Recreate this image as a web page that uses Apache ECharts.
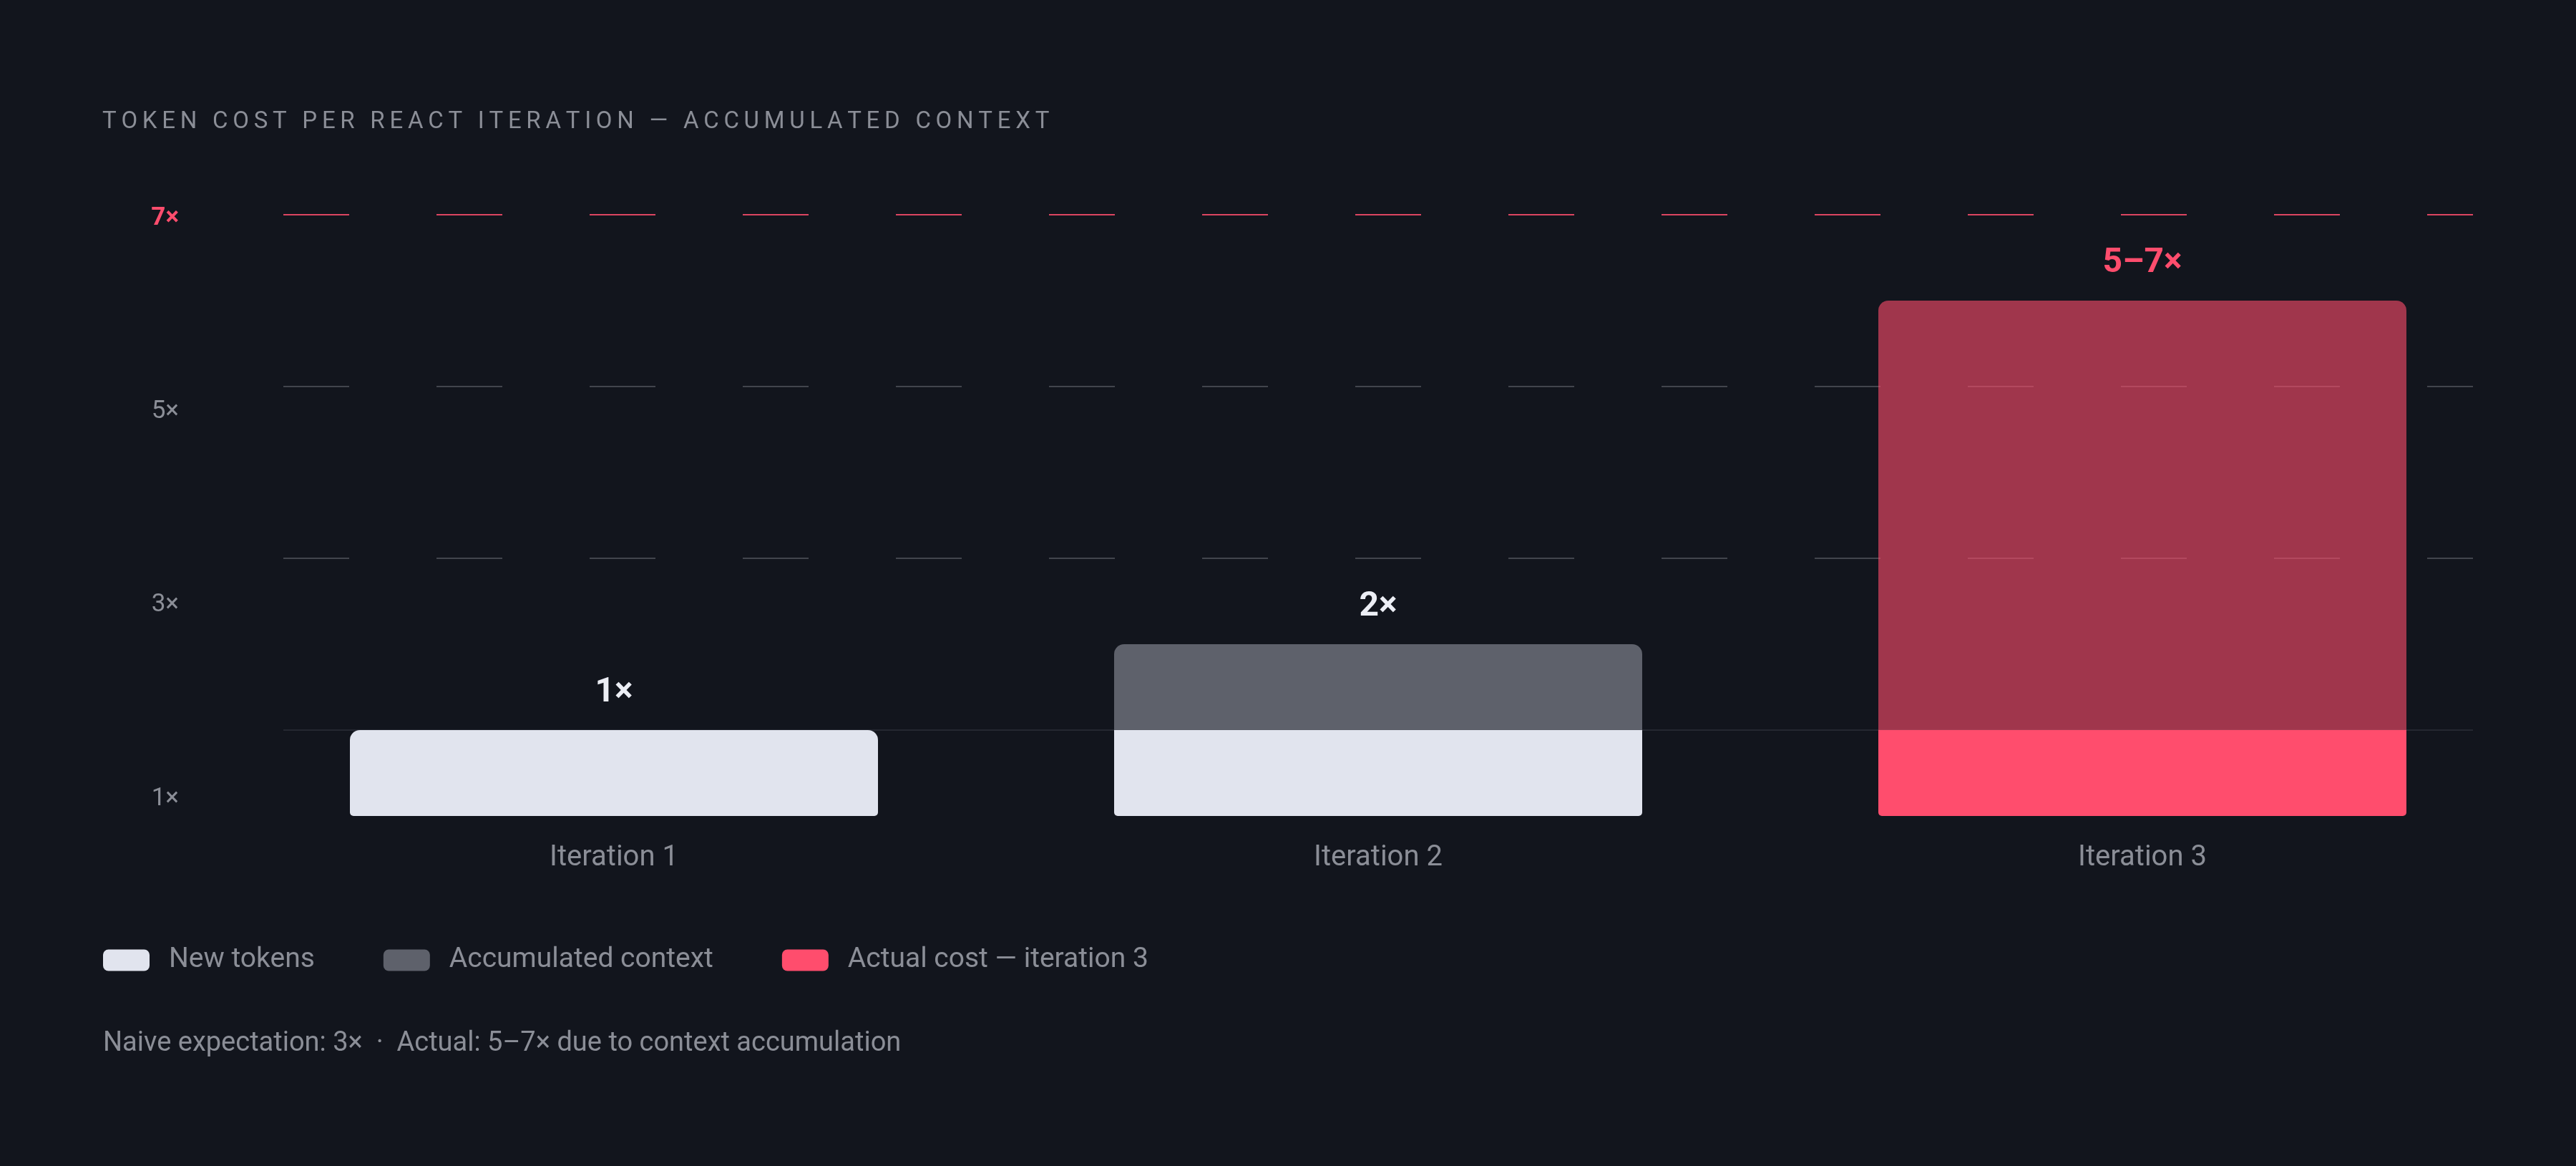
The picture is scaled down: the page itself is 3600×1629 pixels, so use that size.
<!DOCTYPE html>
<html>
<head>
<meta charset="utf-8">
<title>Token cost per ReAct iteration</title>
<script src="https://cdn.jsdelivr.net/npm/echarts@6/dist/echarts.min.js"></script>
<style>
  html, body { margin: 0; padding: 0; background: #12151d; }
  #chart { width: 3600px; height: 1629px; }
</style>
</head>
<body>
<div id="chart"></div>
<script>
// ---- data ----
var categories = ['Iteration 1', 'Iteration 2', 'Iteration 3'];
var newTokens = [1, 1, null];
var accumulatedContext = [null, 1, null];
var actualNew = [null, null, 1];
var actualAccumulated = [null, null, 5];
var totalLabels = ['1×', '2×', '5–7×'];
var yTickValues = [1, 3, 5, 7];
var titleText = 'TOKEN COST PER REACT ITERATION — ACCUMULATED CONTEXT';
var footerText = 'Naive expectation: 3×  ·  Actual: 5–7× due to context accumulation';

var FONT = 'Roboto, "Noto Sans", sans-serif';
var GREY_TEXT = '#8b8e97';
var RED = '#ff4d6d';

// stack order, bottom to top
var stack = [
  { name: 'New tokens', values: newTokens, color: '#e1e4ee' },
  { name: 'Accumulated context', values: accumulatedContext, color: '#5e616b' },
  { name: 'Actual cost — iteration 3', values: actualNew, color: RED },
  { name: 'Actual cost — iteration 3', values: actualAccumulated, color: 'rgba(255,77,109,0.6)' }
];
var labelColors = ['#eceef5', '#eceef5', RED];

function segmentIndex(i, last) {
  var found = -1;
  for (var s = 0; s < stack.length; s++) {
    if (stack[s].values[i] != null) {
      if (!last && found < 0) found = s;
      if (last) found = s;
    }
  }
  return found;
}

var barSeries = stack.map(function (seg, s) {
  return {
    type: 'bar',
    name: seg.name,
    stack: 'cost',
    xAxisIndex: 0,
    yAxisIndex: 0,
    barWidth: 738,
    itemStyle: { color: seg.color },
    data: seg.values.map(function (v, i) {
      if (v == null) return null;
      var isTop = segmentIndex(i, true) === s;
      var isBottom = segmentIndex(i, false) === s;
      var item = {
        value: v,
        itemStyle: { borderRadius: [isTop ? 14 : 0, isTop ? 14 : 0, isBottom ? 5 : 0, isBottom ? 5 : 0] }
      };
      if (isTop) {
        item.label = {
          show: true,
          position: 'top',
          distance: 28,
          formatter: totalLabels[i],
          color: labelColors[i],
          fontFamily: FONT,
          fontSize: 48,
          fontWeight: 'bold'
        };
      }
      return item;
    })
  };
});

var chart = echarts.init(document.getElementById('chart'));
chart.setOption({
  backgroundColor: '#12151d',
  animation: false,
  title: [{
    text: titleText.split('').join('\u2009'),
    left: 143,
    top: 154,
    padding: 0,
    textStyle: { color: GREY_TEXT, fontFamily: FONT, fontSize: 33, fontWeight: 'normal' }
  }, {
    text: footerText,
    left: 144,
    top: 1439,
    padding: 0,
    textStyle: { color: GREY_TEXT, fontFamily: FONT, fontSize: 38, fontWeight: 'normal' }
  }],
  legend: {
    left: 144,
    top: 1322,
    padding: 0,
    icon: 'roundRect',
    itemWidth: 65,
    itemHeight: 30,
    itemGap: 96,
    data: ['New tokens', 'Accumulated context', 'Actual cost — iteration 3'],
    textStyle: { color: GREY_TEXT, fontFamily: FONT, fontSize: 39, padding: [0, 0, 0, 22] }
  },
  grid: [
    // bars
    { left: 324, top: 300, width: 3204, height: 840 },
    // grid lines (inset)
    { left: 396, top: 300, width: 3060, height: 840 },
    // y tick labels
    { left: 324, top: 305, width: 3204, height: 811 }
  ],
  xAxis: [
    {
      type: 'category', gridIndex: 0, data: categories,
      axisLine: { show: false }, axisTick: { show: false },
      axisLabel: { color: GREY_TEXT, fontFamily: FONT, fontSize: 40, margin: 39 }
    },
    { type: 'value', gridIndex: 1, show: false },
    { type: 'value', gridIndex: 2, show: false }
  ],
  yAxis: [
    { type: 'value', gridIndex: 0, min: 0, max: 7, interval: 1, show: false },
    {
      type: 'value', gridIndex: 1, min: 0, max: 7, interval: 1,
      axisLine: { show: false }, axisTick: { show: false }, axisLabel: { show: false },
      splitLine: {
        show: true,
        lineStyle: {
          width: 2, type: [92, 122],
          color: ['transparent', 'transparent', 'transparent', '#42454d', 'transparent', '#42454d', 'transparent', 'rgba(255,77,109,0.85)']
        }
      }
    },
    {
      type: 'value', gridIndex: 1, min: 0, max: 7, interval: 1,
      axisLine: { show: false }, axisTick: { show: false }, axisLabel: { show: false },
      splitLine: {
        show: true,
        lineStyle: {
          width: 2, type: 'solid',
          color: ['transparent', '#252831', 'transparent', 'transparent', 'transparent', 'transparent', 'transparent', 'transparent']
        }
      }
    },
    {
      type: 'value', gridIndex: 2, min: yTickValues[0], max: yTickValues[yTickValues.length - 1], interval: 2,
      axisLine: { show: false }, axisTick: { show: false }, splitLine: { show: false },
      axisLabel: {
        margin: 74,
        formatter: function (v) {
          return v === 7 ? '{hi|' + v + '×}' : '{lo|' + v + '×}';
        },
        rich: {
          lo: { color: GREY_TEXT, fontFamily: FONT, fontSize: 35 },
          hi: { color: RED, fontFamily: FONT, fontSize: 35, fontWeight: 'bold' }
        }
      }
    }
  ],
  series: barSeries
});
</script>
</body>
</html>
